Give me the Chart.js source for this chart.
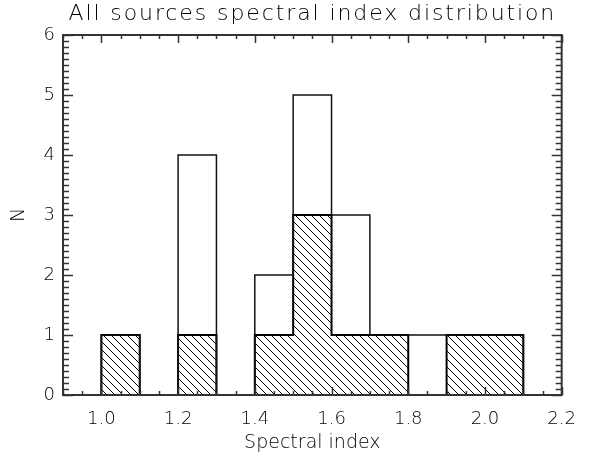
<!DOCTYPE html>
<html><head><meta charset="utf-8">
<script src="https://cdn.jsdelivr.net/npm/chart.js@4"></script>
<style>html,body{margin:0;padding:0;background:#fff;}#wrap{width:590px;height:457px;}</style>
</head><body><div id="wrap"><canvas id="c" width="590" height="457"></canvas></div>
<script>
// ---- data ----
const binCenters   = [1.05, 1.15, 1.25, 1.35, 1.45, 1.55, 1.65, 1.75, 1.85, 1.95, 2.05];
const allCounts    = [1, 0, 4, 0, 2, 5, 3, 1, 1, 1, 1];
const subsetCounts = [1, 0, 1, 0, 1, 3, 1, 1, 0, 1, 1];
const binWidth = 0.1;
const xTicks = [1.0, 1.2, 1.4, 1.6, 1.8, 2.0, 2.2];
const yTicks = [0, 1, 2, 3, 4, 5, 6];
const titleText = 'All sources spectral index distribution';
const xTitle = 'Spectral index';
const yTitle = 'N';

// step outline of a histogram (half-bin empty extension at each end);
// each point holds its bin value from its x up to the next point's x ("before" stepping)
function stepOf(counts) {
  const pts = [{x: binCenters[0] - binWidth, y: 0}];
  binCenters.forEach((c, i) => pts.push({x: c - binWidth / 2, y: counts[i]}));
  const lastC = binCenters[binCenters.length - 1];
  pts.push({x: lastC + binWidth / 2, y: 0});
  pts.push({x: lastC + binWidth, y: 0});
  return pts;
}

const canvas = document.getElementById('c');
const ctx = canvas.getContext('2d');

function makeHatch() {
  const s = 8;
  const p = document.createElement('canvas');
  p.width = s; p.height = s;
  const g = p.getContext('2d');
  g.strokeStyle = '#000';
  g.lineWidth = 1;
  g.beginPath();
  g.moveTo(-1, -1); g.lineTo(s + 1, s + 1);
  g.moveTo(-1, s - 1); g.lineTo(1, s + 1);
  g.moveTo(s - 1, -1); g.lineTo(s + 1, 1);
  g.stroke();
  return ctx.createPattern(p, 'repeat');
}
const hatch = makeHatch();

const FONT = "'DejaVu Sans', sans-serif";
const W = '200';

const axisDeco = {
  id: 'axisDeco',
  beforeDraw(chart) {
    const tb = chart.titleBlock;
    if (tb && !tb._spaced) {
      const orig = tb.draw.bind(tb);
      tb.draw = function (area) {
        const c = this.ctx;
        c.save();
        c.letterSpacing = '1.9px';
        orig(area);
        c.restore();
      };
      tb._spaced = true;
    }
  },
  afterDatasetsDraw(chart) {
    const {ctx, chartArea: a, scales: {x, y}} = chart;
    ctx.save();
    ctx.strokeStyle = '#333';
    ctx.lineWidth = 1.5;
    const seg = (x1, y1, x2, y2) => { ctx.beginPath(); ctx.moveTo(x1, y1); ctx.lineTo(x2, y2); ctx.stroke(); };
    const nx = Math.round((x.max - x.min) / 0.05);
    for (let i = 0; i <= nx; i++) {
      const v = x.min + i * 0.05;
      const major = Math.abs(v * 5 - Math.round(v * 5)) < 1e-6;
      const L = major ? 8 : 4;
      const px = Math.round(x.getPixelForValue(v)) + 0.5;
      seg(px, a.bottom, px, a.bottom - L);
      seg(px, a.top, px, a.top + L);
    }
    const ny = Math.round((y.max - y.min) / 0.1);
    for (let i = 0; i <= ny; i++) {
      const v = y.min + i * 0.1;
      const major = i % 10 === 0;
      const L = major ? 10 : 6;
      const py = Math.round(y.getPixelForValue(v)) + 0.5;
      seg(a.left, py, a.left + L, py);
      seg(a.right, py, a.right - L, py);
    }
    ctx.lineWidth = 2;
    ctx.strokeRect(a.left, a.top, a.right - a.left, a.bottom - a.top);
    ctx.restore();
  }
};

new Chart(ctx, {
  type: 'line',
  data: {
    datasets: [
      {
        data: stepOf(allCounts),
        stepped: 'before',
        borderColor: '#111',
        borderWidth: 1.5,
        pointRadius: 0,
        fill: false,
        order: 0
      },
      {
        data: stepOf(subsetCounts),
        stepped: 'before',
        borderColor: '#000',
        borderWidth: 2,
        backgroundColor: hatch,
        pointRadius: 0,
        fill: 'origin',
        order: 1
      }
    ]
  },
  options: {
    responsive: false,
    animation: false,
    devicePixelRatio: 1,
    layout: {padding: {top: 0, right: 18, bottom: 0, left: 0}},
    plugins: {
      legend: {display: false},
      tooltip: {enabled: false},
      title: {
        display: true,
        text: titleText,
        fullSize: false,
        color: '#000',
        font: {family: FONT, size: 22, weight: W, lineHeight: 1.2},
        padding: {top: 1, bottom: 7.6}
      }
    },
    scales: {
      x: {
        type: 'linear',
        min: 0.9,
        max: 2.2,
        offset: false,
        grid: {display: false, drawTicks: false},
        border: {display: false},
        afterBuildTicks: s => { s.ticks = xTicks.map(v => ({value: v})); },
        afterFit: s => { s.height = 62; },
        ticks: {
          callback: v => Number(v).toFixed(1),
          maxRotation: 0, autoSkip: false, padding: 14,
          color: '#000', font: {family: FONT, size: 18, weight: W}
        },
        title: {
          display: true, text: xTitle, color: '#000',
          font: {family: FONT, size: 19, weight: W, lineHeight: 1.2},
          padding: {top: 0, bottom: 3}
        }
      },
      y: {
        type: 'linear',
        min: 0,
        max: 6,
        grid: {display: false, drawTicks: false},
        border: {display: false},
        afterBuildTicks: s => { s.ticks = yTicks.map(v => ({value: v})); },
        afterFit: s => { s.width = 63; },
        ticks: {
          padding: 8, autoSkip: false,
          color: '#000', font: {family: FONT, size: 18, weight: W}
        },
        title: {
          display: true, text: yTitle, color: '#000',
          font: {family: FONT, size: 19, weight: W, lineHeight: 1.2},
          padding: {top: 8, bottom: 0}
        }
      }
    }
  },
  plugins: [axisDeco]
});
</script>
</body></html>
